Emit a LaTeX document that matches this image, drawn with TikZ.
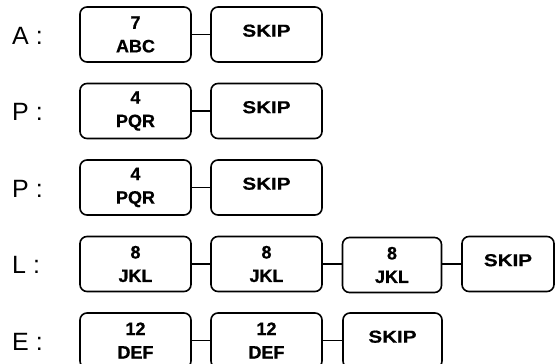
\documentclass[tikz,border=0pt]{standalone}
\usepackage{fontspec}
\setmainfont{Liberation Sans}
\newfontface\keyfont[FakeBold=0.6]{Liberation Sans Bold}
\newfontface\skipfont[FakeStretch=1.2,FakeBold=0.6]{Liberation Sans Bold}
\begin{document}
\begin{tikzpicture}[x=1pt,y=-1pt,
  keybox/.style={draw, line width=1.6pt, rounded corners=7pt, minimum height=55pt, inner sep=0pt,
    align=center, font=\keyfont\fontsize{18}{23.5}\selectfont},
  wide/.style={minimum width=111pt},
  narrow/.style={minimum width=99pt},
  skipbox/.style={keybox, font=\skipfont\fontsize{17.2}{23}\selectfont, text height=12.3pt, text depth=8pt},
  rowlabel/.style={anchor=west, inner sep=0pt, font=\fontsize{25}{28}\selectfont},
  conn/.style={line width=1.6pt}]
\useasboundingbox (0,0) rectangle (555,364);
% Row A
\node[rowlabel] (la) at (12,35.5) {A :};
\node[keybox,wide] (a1) at (135.5,34.5) {7\\ABC};
\node[skipbox,wide] (a2) at (266.5,34.5) {SKIP};
\draw[conn] (a1.east) -- (a2.west);
% Row P
\node[rowlabel] (lp1) at (12,112) {P :};
\node[keybox,wide] (p1) at (135.5,111) {4\\PQR};
\node[skipbox,wide] (p2) at (266.5,111) {SKIP};
\draw[conn] (p1.east) -- (p2.west);
% Row P
\node[rowlabel] (lp2) at (12,188.5) {P :};
\node[keybox,wide] (q1) at (135.5,187.5) {4\\PQR};
\node[skipbox,wide] (q2) at (266.5,187.5) {SKIP};
\draw[conn] (q1.east) -- (q2.west);
% Row L
\node[rowlabel] (ll) at (12,265) {L :};
\node[keybox,wide] (l1) at (135.5,264) {8\\JKL};
\node[keybox,wide] (l2) at (266.5,264) {8\\JKL};
\node[keybox,narrow] (l3) at (392,265) {8\\JKL};
\node[skipbox,minimum width=92pt] (l4) at (508,264) {SKIP};
\draw[conn] (l1.east) -- (l2.west);
\draw[conn] (l2.east) -- (l2.east -| l3.west);
\draw[conn] (l3.east |- l4.west) -- (l4.west);
% Row E
\node[rowlabel] (le) at (12,341.5) {E :};
\node[keybox,wide] (e1) at (135.5,340.5) {12\\DEF};
\node[keybox,wide] (e2) at (266.5,340.5) {12\\DEF};
\node[skipbox,narrow] (e3) at (392.5,340.5) {SKIP};
\draw[conn] (e1.east) -- (e2.west);
\draw[conn] (e2.east) -- (e3.west);
\end{tikzpicture}
\end{document}
